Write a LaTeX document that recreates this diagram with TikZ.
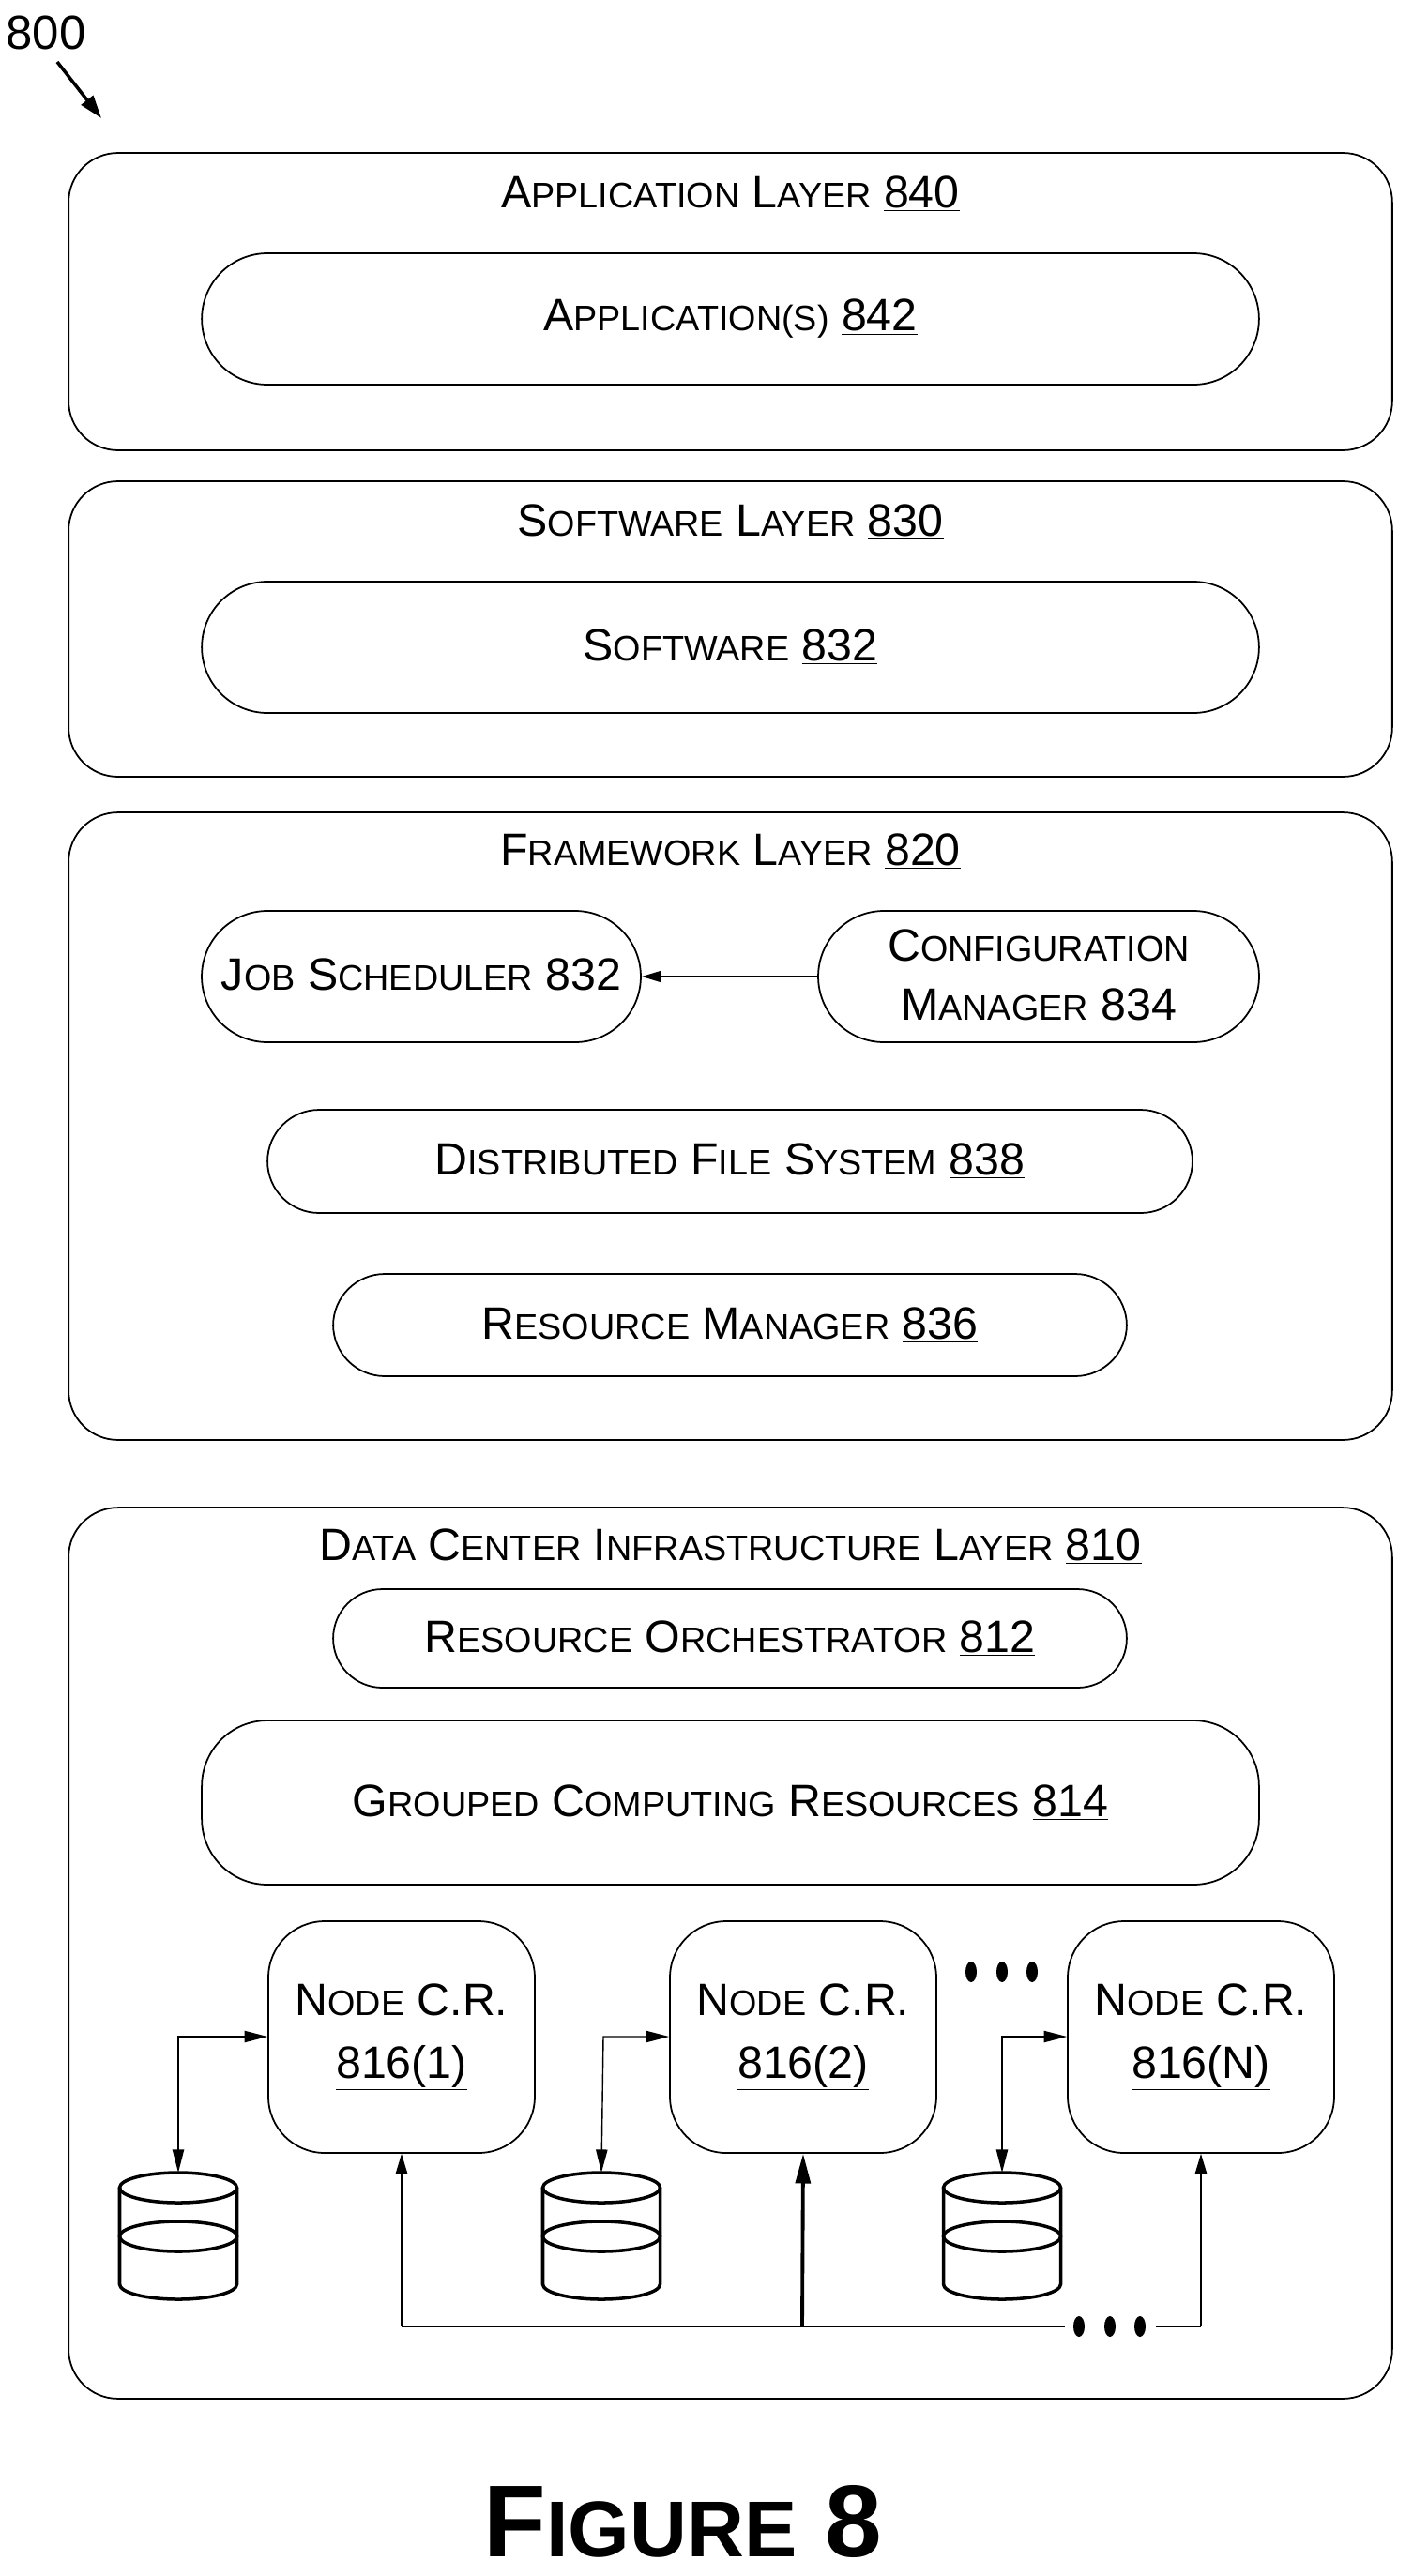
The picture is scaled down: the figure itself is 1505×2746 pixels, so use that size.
\documentclass[tikz,border=0pt]{standalone}
\usepackage{fontspec}
\setmainfont{Liberation Sans}
\usetikzlibrary{arrows.meta}
\newcommand\smc[1]{{\fontsize{21.5}{26}\selectfont #1}}
\begin{document}
\begin{tikzpicture}[x=0.02cm,y=-0.02cm,
  box/.style={draw,line width=1pt,rounded corners=#1,inner sep=0pt},
  txt/.style={font=\fontsize{27.5}{36}\selectfont,align=center},
  ar/.style={-{Triangle[length=12pt,width=7pt]},line width=0.9pt}]
\useasboundingbox (0,0) rectangle (1505,2746);
% outer layers
\node[box=1.05cm,minimum width=28.22cm,minimum height=6.34cm] (app) at (778.5,321.5) {};
\node[box=1.05cm,minimum width=28.22cm,minimum height=6.30cm] (sw) at (778.5,670.5) {};
\node[box=1.05cm,minimum width=28.22cm,minimum height=13.38cm] (fw) at (778.5,1200.5) {};
\node[box=1.05cm,minimum width=28.22cm,minimum height=19.0cm] (dc) at (778.5,2082) {};
\node[txt] (appt) at (778.5,207) {A\smc{PPLICATION} L\smc{AYER} \underline{840}};
\node[txt] (swt) at (778.5,557) {S\smc{OFTWARE} L\smc{AYER} \underline{830}};
\node[txt] (fwt) at (778.5,908) {F\smc{RAMEWORK} L\smc{AYER} \underline{820}};
\node[txt] (dct) at (778.5,1649) {D\smc{ATA} C\smc{ENTER} I\smc{NFRASTRUCTURE} L\smc{AYER} \underline{810}};
% inner boxes
\node[box=1.4cm,txt,minimum width=22.54cm,minimum height=2.8cm] (apps) at (778.5,340) {A\smc{PPLICATION(S)} \underline{842}};
\node[box=1.4cm,txt,minimum width=22.54cm,minimum height=2.8cm] (soft) at (778.5,690) {S\smc{OFTWARE} \underline{832}};
\node[box=1.4cm,txt,minimum width=9.36cm,minimum height=2.8cm] (job) at (449,1041) {J\smc{OB} S\smc{CHEDULER} \underline{832}};
\node[box=1.4cm,txt,minimum width=9.4cm,minimum height=2.8cm] (conf) at (1107,1041) {C\smc{ONFIGURATION}\\M\smc{ANAGER} \underline{834}};
\node[box=1.1cm,txt,minimum width=19.72cm,minimum height=2.2cm] (dfs) at (778,1238) {D\smc{ISTRIBUTED} F\smc{ILE} S\smc{YSTEM} \underline{838}};
\node[box=1.1cm,txt,minimum width=16.92cm,minimum height=2.18cm] (rm) at (778,1412.5) {R\smc{ESOURCE} M\smc{ANAGER} \underline{836}};
\node[box=1.05cm,txt,minimum width=16.92cm,minimum height=2.1cm] (ro) at (778,1746.5) {R\smc{ESOURCE} O\smc{RCHESTRATOR} \underline{812}};
\node[box=1.4cm,txt,minimum width=22.54cm,minimum height=3.5cm] (gcr) at (778.5,1921.5) {G\smc{ROUPED} C\smc{OMPUTING} R\smc{ESOURCES} \underline{814}};
\draw[ar] (conf.west) -- (job.east);
% compute nodes
\foreach \n/\x/\l in {1/428/1,2/856/2,3/1280/N}{
  \node[box=1.2cm,txt,minimum width=5.68cm,minimum height=4.94cm] (n\n) at (\x,2171.5) {N\smc{ODE} C.R.\\[2pt]\underline{816(\l)}};
}
% cylinders
\foreach \c/\cx in {1/190,2/641,3/1068}{
  \coordinate (cyl\c) at (\cx,2316);
  \begin{scope}[line width=2pt]
  \draw (\cx,2332) ellipse (62.5 and 16);
  \draw (\cx,2384) ellipse (62.5 and 16);
  \draw (\cx-62.5,2332) -- (\cx-62.5,2435) arc[start angle=180,end angle=0,x radius=62.5,y radius=16] -- (\cx+62.5,2332);
  \end{scope}
}
\foreach \c/\n/\cx in {1/1/190,2/2/643,3/3/1068}{
  \draw[{Triangle[length=14pt,width=7pt]}-{Triangle[length=14pt,width=7pt]},line width=0.8pt] (cyl\c) -- (\cx,2171) -- (n\n.west |- 0,2171);
}
% bus
\coordinate (b1) at (428,2480);
\coordinate (b3) at (1280,2480);
\coordinate (bsrc) at (855,2480);
\draw[line width=0.8pt] (b1) -- (1135,2480);
\draw[line width=0.8pt] (1232,2480) -- (b3);
\draw[ar,line width=0.8pt] (b1) -- (n1.south);
\draw[ar,line width=0.8pt] (b3) -- (n3.south);
\draw[-{Triangle[length=18pt,width=9pt]},line width=2.2pt] (bsrc) -- (n2.south);
\foreach \x in {1150,1183,1215}{\fill (\x,2480) ellipse (6 and 11);}
\foreach \x in {1035,1068,1100}{\fill (\x,2102) ellipse (6 and 11);}
% label
\node[font=\fontsize{29}{34}\selectfont] (lbl) at (49,35) {800};
\coordinate (lblt) at (108,126);
\draw[-{Triangle[length=14pt,width=9pt]},line width=2pt] (61,66) -- (lblt);
\node[font=\fontsize{62}{70}\selectfont\bfseries] (fig) at (728,2688) {F{\fontsize{48}{54}\selectfont IGURE} 8};
\end{tikzpicture}
\end{document}
